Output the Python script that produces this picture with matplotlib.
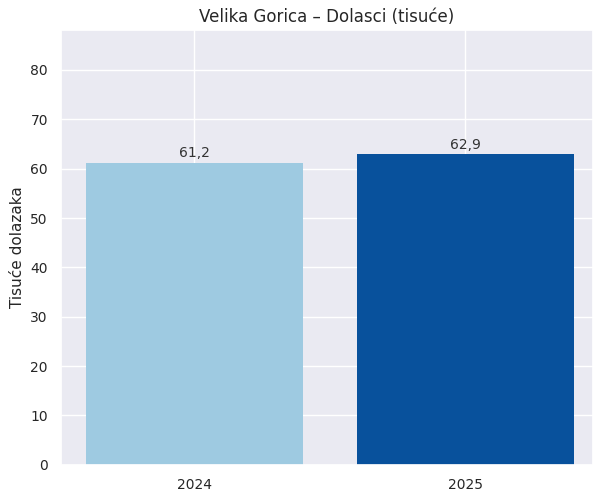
import matplotlib
matplotlib.use('Agg')
import matplotlib.pyplot as plt
import seaborn as sns

# data
years = ['2024', '2025']
arrivals = [61.2, 62.9]
bar_colors = ['#9ecae1', '#08519c']

sns.set_theme(style='darkgrid')
plt.rcParams['font.family'] = ['DejaVu Sans']

fig, ax = plt.subplots(figsize=(5.93, 4.95), dpi=100)
bars = ax.bar(years, arrivals, color=bar_colors, width=0.8, linewidth=0)

for b, v in zip(bars, arrivals):
    ax.annotate(f'{v:.1f}'.replace('.', ','),
                xy=(b.get_x() + b.get_width() / 2, v),
                xytext=(0, 2), textcoords='offset points',
                ha='center', va='bottom', fontsize=10, color='#333333')

ax.set_xlim(-0.49, 1.47)
ax.set_ylim(0, max(arrivals) * 1.4)
ax.set_ylabel('Tisuće dolazaka', fontsize=11)
ax.set_title('Velika Gorica – Dolasci (tisuće)', fontsize=12)
ax.tick_params(labelsize=10)

fig.subplots_adjust(left=0.103, right=1.0, top=0.939, bottom=0.061)
fig.savefig('out.png', dpi=100)
